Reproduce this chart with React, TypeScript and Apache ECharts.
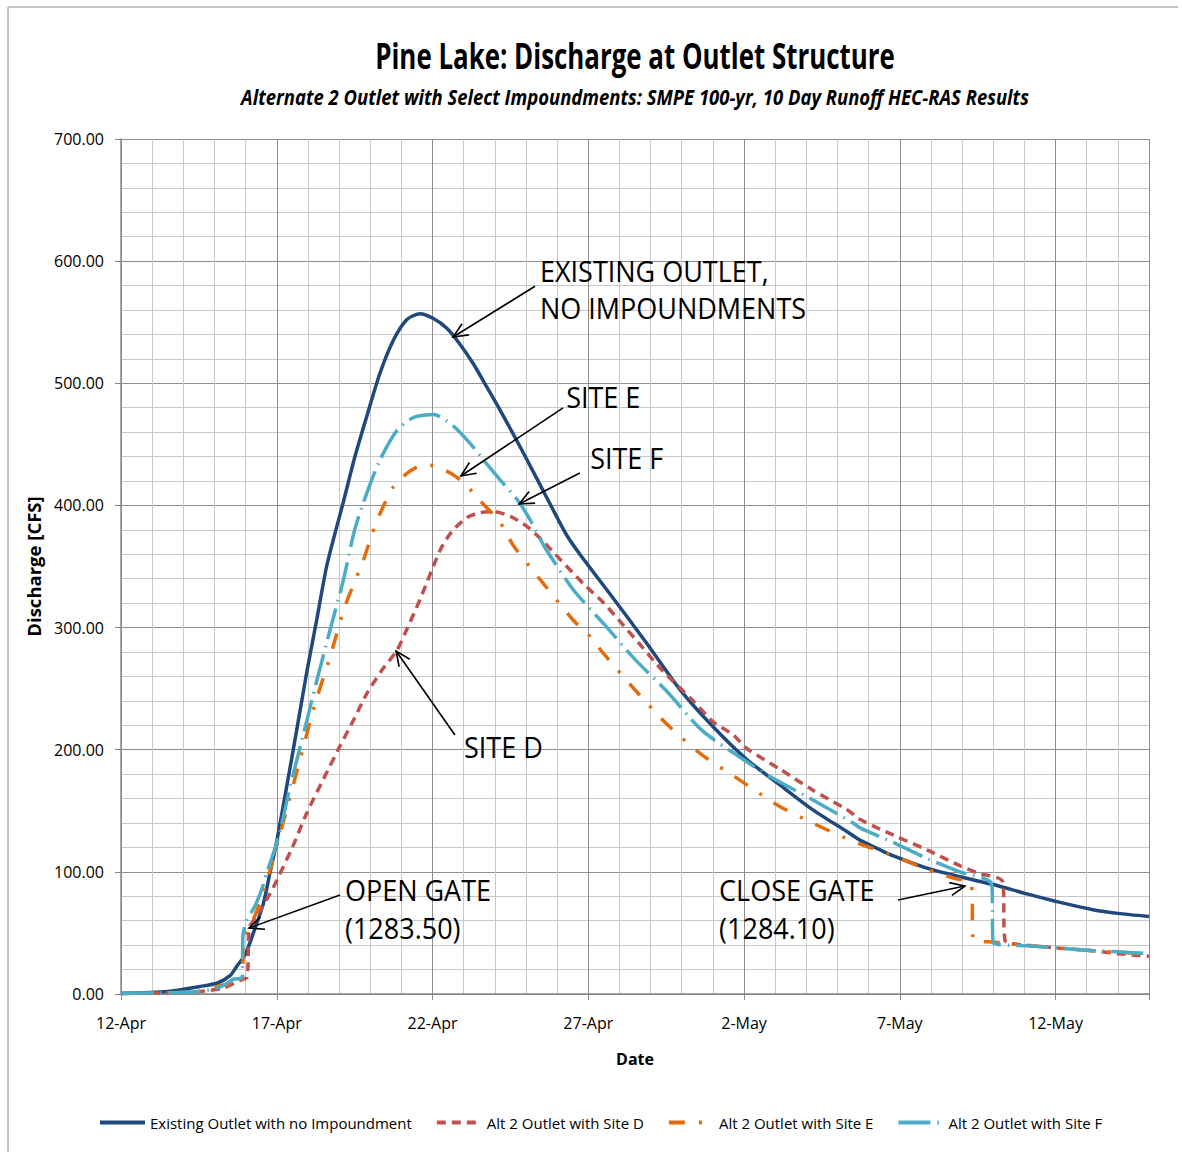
import React, { useEffect, useRef } from "react";
import * as echarts from "echarts";

const FONT = "'Open Sans', 'Noto Sans', sans-serif";

// x values are days after 12-Apr
const xTickLabels = ["12-Apr", "17-Apr", "22-Apr", "27-Apr", "2-May", "7-May", "12-May"];
const seriesNames = [
  "Existing Outlet with no Impoundment",
  "Alt 2 Outlet with Site D",
  "Alt 2 Outlet with Site E",
  "Alt 2 Outlet with Site F",
];

const existingDays = [0, 1.5, 2.5, 3.1, 3.5, 3.7, 4.0, 4.25, 4.57, 4.78, 5.0, 5.32, 5.64, 5.96, 6.28, 6.6, 6.92, 7.14, 7.51, 7.89, 8.31, 8.74, 9.17, 9.6, 10.03, 10.46, 10.88, 11.31, 11.74, 12.17, 12.6, 13.02, 13.45, 13.88, 14.3, 14.73, 15.8, 16.88, 17.95, 19.0, 20.09, 21.16, 22.2, 23.3, 23.72, 24.37, 24.8, 25.87, 26.93, 28.0, 29.08, 30.15, 31.2, 32, 33];
const existingQ = [0.5, 2, 6, 9, 15, 22, 33, 50, 74, 99, 125, 170, 216, 263, 306, 350, 382, 403, 440, 473, 508, 535, 552, 557, 553, 545, 532, 516, 497, 478, 458, 438, 417, 396, 376, 360, 324, 287, 249, 219, 192, 171, 151, 133, 126, 118, 113, 103, 96, 89.6, 82, 75, 69, 66, 63.5];

const siteDDays = [0, 1.5, 2.5, 3.3, 3.8, 4.05, 4.1, 4.15, 4.36, 4.78, 5.0, 5.5, 5.96, 6.5, 7.03, 7.5, 7.89, 8.4, 8.85, 9.2, 9.6, 10.24, 10.6, 11.1, 11.5, 11.95, 12.5, 13.02, 13.5, 14.09, 14.84, 15.5, 16.02, 16.7, 17.41, 18.37, 19.0, 19.66, 20.09, 21.16, 22.2, 23.3, 23.72, 24.37, 24.8, 25.87, 26.93, 27.5, 28.3, 28.38, 29.08, 30.15, 31.2, 32, 33];
const siteDQ = [0.5, 1, 2, 5, 11, 14, 50, 56, 64, 82, 93, 120, 148, 176, 203, 226, 246, 266, 281, 300, 323, 363, 378, 390, 394, 395, 391, 383, 372, 356, 336, 320, 305, 285, 264, 240, 223, 212, 201, 184, 167, 151, 143, 135, 130, 118, 105, 99, 92, 44, 40, 37.5, 35.5, 33, 31];

const siteEDays = [0, 1.5, 2.5, 3.2, 3.7, 3.9, 3.93, 4.2, 4.5, 4.78, 5.2, 5.75, 6.2, 6.71, 7.2, 7.78, 8.05, 8.31, 8.74, 9.17, 9.55, 9.92, 10.3, 10.67, 11.1, 11.52, 12.17, 12.6, 13.56, 14.52, 15.05, 15.48, 16.5, 17.52, 18.64, 19.7, 21.05, 22.2, 23.5, 24.8, 25.87, 26.72, 27.3, 27.36, 28.0, 29.08, 30.15, 31.2, 32, 33];
const siteEQ = [0.5, 1, 2, 7, 9, 10, 46, 58, 78, 101, 140, 192, 235, 276, 318, 355, 376, 393, 415, 426, 432, 433, 430, 425, 416, 404, 386, 367, 336, 306, 293, 279, 249, 221, 196, 178, 155, 140, 125, 113, 102, 95, 90, 44, 42.5, 40, 37.5, 35.5, 34, 33];

const siteFDays = [0, 1.5, 2.5, 3.2, 3.6, 3.9, 3.91, 4.0, 4.3, 4.51, 4.68, 5.05, 5.43, 5.85, 6.28, 6.71, 7.14, 7.5, 7.89, 8.31, 8.85, 9.39, 10.03, 10.67, 11.2, 11.74, 12.17, 12.71, 13.14, 13.6, 14.52, 15.5, 16.5, 17.55, 18.64, 19.8, 20.83, 22.2, 23.5, 23.72, 24.8, 25.87, 26.93, 27.95, 28.0, 29.08, 30.15, 31.2, 32, 33];
const siteFQ = [0.5, 1, 2, 6, 12, 14, 46, 58, 72, 85, 99, 128, 170, 212, 256, 298, 339, 380, 410, 437, 461, 472, 474.5, 465, 451, 434, 421, 405, 388, 366, 331, 303, 274, 247, 216, 195, 178, 159, 140, 136, 124, 111, 100, 90, 42, 39.5, 37.5, 35.5, 34.5, 33];

// annotation arrows: tail -> tip, in data units
const arrowTailDay = [13.29, 14.19, 14.73, 10.72, 7.03, 24.94];
const arrowTailQ = [579.4, 479.8, 426.6, 212, 81, 77];
const arrowTipDay = [10.66, 10.91, 12.78, 8.83, 4.11, 27.09];
const arrowTipQ = [537.9, 424.1, 401.2, 280.8, 54, 88.4];

const noteLabels = ["EXISTING OUTLET,", "NO IMPOUNDMENTS", "SITE E", "SITE F", "SITE D", "OPEN GATE", "(1283.50)", "CLOSE GATE", "(1284.10)"];
const noteDay = [13.45, 13.45, 14.29, 15.06, 11.01, 7.19, 7.19, 19.2, 19.2];
const noteQ = [592.8, 561.7, 489.6, 439.7, 203, 86, 54.9, 86, 54.9];

const pairs = (xs: number[], ys: number[]) => xs.map((x, i) => [x, ys[i]]);

export default function App() {
  const ref = useRef<HTMLDivElement>(null);
  useEffect(() => {
    if (!ref.current) return;
    const chart = echarts.init(ref.current, undefined, { renderer: "svg" });
    const lineBase = { type: "line", showSymbol: false, symbol: "none", smooth: 0.25, z: 3, xAxisIndex: 0 };
    chart.setOption({
      animation: false,
      backgroundColor: "#ffffff",
      textStyle: { fontFamily: FONT },
      grid: { left: 121, right: 33, top: 139, bottom: 158, containLabel: false },
      graphic: [
        { type: "line", shape: { x1: 8, y1: 7, x2: 8, y2: 1152 }, style: { stroke: "#8a8a8a", lineWidth: 1 } },
        { type: "line", shape: { x1: 8, y1: 7, x2: 1178, y2: 7 }, style: { stroke: "#8a8a8a", lineWidth: 1 } },
        {
          type: "text", x: 635, y: 55, scaleX: 0.74,
          style: { text: "Pine Lake: Discharge at Outlet Structure", fill: "#000", font: `bold 35px ${FONT}`, align: "center", verticalAlign: "middle" },
        },
        {
          type: "text", x: 635, y: 97, scaleX: 0.88,
          style: { text: "Alternate 2 Outlet with Select Impoundments: SMPE 100-yr, 10 Day Runoff HEC-RAS Results", fill: "#000", font: `italic bold 21px ${FONT}`, align: "center", verticalAlign: "middle" },
        },
      ],
      legend: {
        data: seriesNames,
        left: 93,
        top: 1110,
        itemWidth: 45,
        itemHeight: 14,
        itemGap: 23,
        itemStyle: { opacity: 0 },
        lineStyle: { width: 4 },
        textStyle: { fontFamily: FONT, fontSize: 15, color: "#000" },
      },
      xAxis: [
        {
          type: "value", min: 0, max: 33, interval: 5, z: 1,
          name: "Date", nameLocation: "middle", nameGap: 57,
          nameTextStyle: { fontFamily: FONT, fontSize: 16, fontWeight: "bold", color: "#000" },
          axisLine: { show: true, lineStyle: { color: "#868686", width: 1.5 } },
          axisTick: { show: true, length: 6, lineStyle: { color: "#868686" } },
          axisLabel: {
            margin: 21, fontSize: 16, color: "#000", fontFamily: FONT,
            formatter: (v: number) => (v % 5 === 0 && xTickLabels[v / 5]) || "",
          },
          splitLine: { show: true, lineStyle: { color: "#8e8e8e", width: 1 } },
        },
        {
          type: "value", min: 0, max: 33, interval: 1, z: 0, position: "top",
          axisLine: { show: false }, axisTick: { show: false }, axisLabel: { show: false },
          splitLine: { show: true, lineStyle: { color: "#c8c8c8", width: 1 } },
        },
      ],
      yAxis: {
        type: "value", min: 0, max: 700, interval: 100,
        name: "Discharge [CFS]", nameLocation: "middle", nameGap: 67, nameRotate: 90,
        nameTextStyle: { fontFamily: FONT, fontSize: 18.5, fontWeight: "bold", color: "#000" },
        axisLine: { show: true, lineStyle: { color: "#868686", width: 1.5 } },
        axisTick: { show: true, length: 6, lineStyle: { color: "#868686" } },
        axisLabel: { margin: 17, fontSize: 16, color: "#000", fontFamily: FONT, formatter: (v: number) => v.toFixed(2) },
        splitLine: { show: true, lineStyle: { color: "#8e8e8e", width: 1 } },
        minorTick: { show: false, splitNumber: 5 },
        minorSplitLine: { show: true, lineStyle: { color: "#c8c8c8", width: 1 } },
      },
      series: [
        { ...lineBase, name: seriesNames[0], data: pairs(existingDays, existingQ), color: "#1F497D", lineStyle: { width: 3.5, color: "#1F497D" } },
        { ...lineBase, name: seriesNames[1], data: pairs(siteDDays, siteDQ), color: "#C0504D", lineStyle: { width: 3.5, color: "#C0504D", type: [9, 6], cap: "butt" } },
        { ...lineBase, name: seriesNames[2], data: pairs(siteEDays, siteEQ), color: "#E46C0A", lineStyle: { width: 3.5, color: "#E46C0A", type: [16, 14, 3, 14], cap: "butt" } },
        { ...lineBase, name: seriesNames[3], data: pairs(siteFDays, siteFQ), color: "#4BACC6", lineStyle: { width: 3.5, color: "#4BACC6", type: [32, 7, 1.5, 7], cap: "butt" } },
        {
          type: "custom", name: "arrows", z: 10, silent: true, clip: false,
          data: arrowTailDay.map((d, i) => [d, arrowTailQ[i], arrowTipDay[i], arrowTipQ[i]]),
          encode: { x: [0, 2], y: [1, 3] },
          renderItem: (params: any, api: any) => {
            const tail = api.coord([api.value(0), api.value(1)]);
            const tip = api.coord([api.value(2), api.value(3)]);
            const ang = Math.atan2(tip[1] - tail[1], tip[0] - tail[0]);
            const L = 16, a = 0.42;
            const p1 = [tip[0] - L * Math.cos(ang - a), tip[1] - L * Math.sin(ang - a)];
            const p2 = [tip[0] - L * Math.cos(ang + a), tip[1] - L * Math.sin(ang + a)];
            return {
              type: "group",
              children: [
                { type: "line", shape: { x1: tail[0], y1: tail[1], x2: tip[0], y2: tip[1] }, style: { stroke: "#000", lineWidth: 1.6 } },
                { type: "polyline", shape: { points: [p1, tip, p2] }, style: { stroke: "#000", fill: null, lineWidth: 1.6 } },
              ],
            };
          },
        },
        {
          type: "custom", name: "notes", z: 10, silent: true, clip: false,
          data: noteDay.map((d, i) => [d, noteQ[i]]),
          renderItem: (params: any, api: any) => {
            const p = api.coord([api.value(0), api.value(1)]);
            return {
              type: "text", x: p[0], y: p[1], scaleX: 0.9,
              style: { text: noteLabels[params.dataIndex], fill: "#000", font: `30px ${FONT}`, align: "left", verticalAlign: "middle" },
            };
          },
        },
      ],
    });
    return () => chart.dispose();
  }, []);
  return <div ref={ref} style={{ position: "absolute", left: 0, top: 0, width: 1182, height: 1152 }} />;
}
